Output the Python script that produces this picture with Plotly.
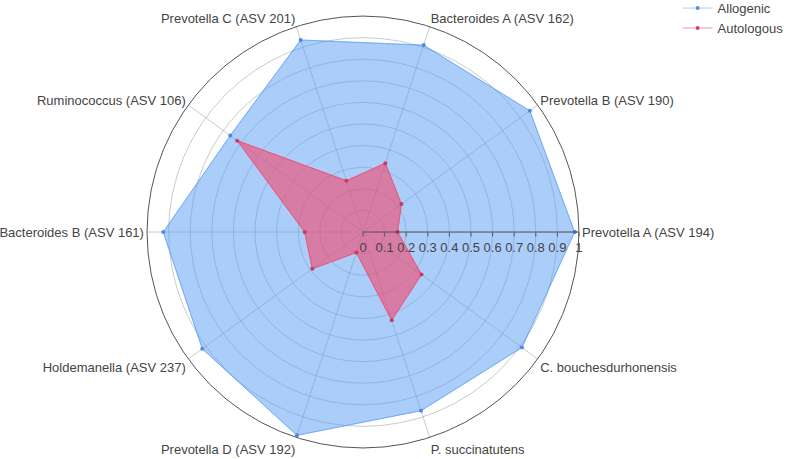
import plotly.graph_objects as go

categories = ['Prevotella A (ASV 194)', 'Prevotella B (ASV 190)', 'Bacteroides A (ASV 162)',
              'Prevotella C (ASV 201)', 'Ruminococcus (ASV 106)', 'Bacteroides B (ASV 161)',
              'Holdemanella (ASV 237)', 'Prevotella D (ASV 192)', 'P. succinatutens',
              'C. bouchesdurhonensis']

allogenic = [0.98, 0.955, 0.91, 0.935, 0.76, 0.925, 0.92, 0.99, 0.87, 0.91]
autologous = [0.16, 0.22, 0.335, 0.25, 0.72, 0.27, 0.29, 0.10, 0.43, 0.335]

radial_ticks = [0, 0.1, 0.2, 0.3, 0.4, 0.5, 0.6, 0.7, 0.8, 0.9, 1]


def closed(vals):
    return vals + vals[:1]


series = [
    ('Allogenic', allogenic, 'rgba(85,155,245,0.5)', 'rgba(70,130,225,0.9)'),
    ('Autologous', autologous, 'rgba(245,72,108,0.6)', 'rgba(200,50,90,0.9)'),
]

fig = go.Figure()

# filled areas (no legend entry), then line+marker traces for the legend
for name, vals, fillc, markc in series:
    fig.add_trace(go.Scatterpolar(
        r=closed(vals), theta=closed(categories), name=name,
        mode='lines', fill='toself', fillcolor=fillc,
        line=dict(color=fillc, width=1), showlegend=False, hoverinfo='skip',
    ))
for name, vals, fillc, markc in series:
    fig.add_trace(go.Scatterpolar(
        r=closed(vals), theta=closed(categories), name=name,
        mode='lines+markers',
        line=dict(color=fillc, width=1),
        marker=dict(size=4, color=markc),
    ))

fig.update_layout(
    width=800, height=459,
    margin=dict(l=0, r=0, t=0, b=0, autoexpand=False),
    paper_bgcolor='white',
    font=dict(family='Liberation Sans, Arial, sans-serif', size=13, color='#444'),
    legend=dict(x=0.847, y=1.015, xanchor='left', yanchor='top',
                font=dict(size=13), tracegroupgap=0, itemwidth=30),
    polar=dict(
        domain=dict(x=[0.18375, 0.72375], y=[0.024, 0.965]),
        bgcolor='white',
        radialaxis=dict(
            range=[0, 1], tickvals=radial_ticks,
            ticktext=[str(t) for t in radial_ticks],
            angle=0, tickangle=0, layer='above traces',
            showline=True, linecolor='#555', linewidth=1,
            gridcolor='rgba(140,140,140,0.45)', ticks='outside', ticklen=4, tickcolor='#555',
        ),
        angularaxis=dict(
            direction='counterclockwise', rotation=0, layer='above traces',
            linecolor='#555', gridcolor='rgba(140,140,140,0.45)',
            ticks='', tickfont=dict(size=13),
        ),
    ),
)

# page has a default 8px body margin; drop it so the 800x459 figure fills the window
fig.write_html("out.html", config={'displayModeBar': False},
               post_script="document.body.style.margin='0';")
